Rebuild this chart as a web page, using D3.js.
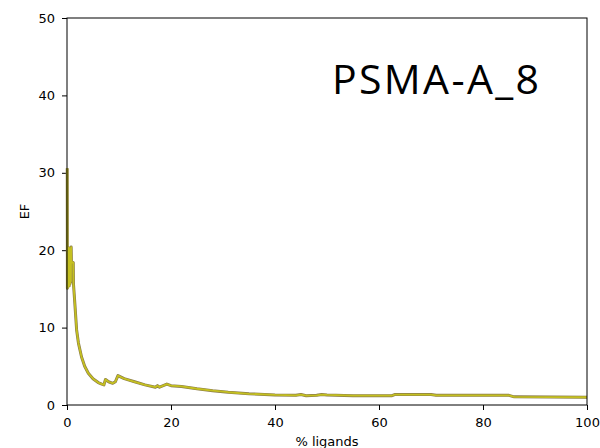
<!DOCTYPE html>
<html>
<head>
<meta charset="utf-8">
<script src="https://cdn.jsdelivr.net/npm/d3@7"></script>
<style>
  body { margin: 0; background: #fff; }
  text { font-family: "DejaVu Sans", sans-serif; }
</style>
</head>
<body>
<div id="chart"></div>
<script>
// EF curve (x = % ligands, y = EF).
const pctLigands = [0.05, 0.08, 0.12, 0.16, 0.2, 0.25, 0.3, 0.35, 0.4, 0.45, 0.5, 0.55, 0.6, 0.65, 0.7, 0.75, 0.8, 0.85, 1.2, 1.25,
    1.5, 1.85, 2.2, 2.8, 3.4, 4.1, 5.0, 6.0, 6.7, 7.1, 7.4, 8.0, 8.8, 9.3, 9.8, 11, 13, 15, 17, 17.4, 17.8, 18.5, 19.2,
    20, 22, 25, 28, 31, 35, 40, 44, 45, 46, 48, 49, 50, 55, 60, 62.5, 63, 70, 71, 76, 85, 86, 100];
const efValues = [30.6, 15.1, 20.4, 15.2, 20.2, 15.3, 20.0, 15.5, 20.3, 15.4, 19.8, 15.6, 20.1, 15.8, 19.6, 16.0, 20.4, 18.5, 18.4, 15.6,
    13.2, 9.7, 8.0, 6.2, 5.0, 4.1, 3.4, 2.9, 2.7, 2.6, 3.3, 3.0, 2.8, 3.0, 3.8, 3.4, 3.0, 2.6, 2.3, 2.5, 2.3, 2.5, 2.7,
    2.5, 2.4, 2.1, 1.85, 1.65, 1.45, 1.3, 1.25, 1.35, 1.2, 1.25, 1.35, 1.3, 1.2, 1.2, 1.2, 1.35, 1.35, 1.25, 1.25, 1.25, 1.05, 1.0];
const xTicks = [0, 20, 40, 60, 80, 100];
const yTicks = [0, 10, 20, 30, 40, 50];
const chartTitle = 'PSMA-A_8';

const width = 600, height = 448;
const margin = {top: 18, right: 13, bottom: 43, left: 67};
const plotW = width - margin.left - margin.right,
    plotH = height - margin.top - margin.bottom;

const svg = d3.select('#chart').append('svg')
    .attr('width', width)
    .attr('height', height);
const g = svg.append('g')
    .attr('transform', 'translate(' + margin.left + ',' + margin.top + ')');

const x = d3.scaleLinear().domain([0, 100]).range([0, plotW]);
const y = d3.scaleLinear().domain([0, 50]).range([plotH, 0]);

// Axes.
const xAxis = g.append('g')
    .attr('transform', 'translate(0,' + plotH + ')')
    .call(d3.axisBottom(x).tickValues(xTicks).tickSize(5).tickPadding(8));
const yAxis = g.append('g')
    .call(d3.axisLeft(y).tickValues(yTicks).tickSize(5).tickPadding(7));
[xAxis, yAxis].forEach(function (a) {
    a.select('.domain').remove();
    a.selectAll('text').attr('font-size', '13px').attr('fill', '#000')
        .style('font-family', '"DejaVu Sans", sans-serif');
    a.selectAll('line').attr('stroke', '#000');
});

// The curve: darker outline under the olive line.
const line = d3.line()
    .x(function (d) { return x(d[0]); })
    .y(function (d) { return y(d[1]); });
const points = pctLigands.map(function (p, i) { return [p, efValues[i]]; });
g.append('path').datum(points)
    .attr('fill', 'none').attr('stroke', '#8a7b4a').attr('stroke-width', 3)
    .attr('stroke-linejoin', 'round').attr('d', line);
g.append('path').datum(points)
    .attr('fill', 'none').attr('stroke', '#c4c020').attr('stroke-width', 1.8)
    .attr('stroke-linejoin', 'round').attr('d', line);

// Frame.
g.append('rect')
    .attr('width', plotW).attr('height', plotH)
    .attr('fill', 'none').attr('stroke', '#000').attr('stroke-width', 1);

// Labels.
svg.append('text')
    .attr('x', margin.left + plotW / 2).attr('y', 446)
    .attr('text-anchor', 'middle').attr('font-size', '13px')
    .text('% ligands');
svg.append('text')
    .attr('transform', 'translate(29,' + (margin.top + plotH / 2) + ') rotate(-90)')
    .attr('text-anchor', 'middle').attr('font-size', '13px')
    .text('EF');
svg.append('text')
    .attr('x', 332).attr('y', 94)
    .attr('font-size', '41px')
    .attr('textLength', 207)
    .attr('lengthAdjust', 'spacing')
    .style('font-family', '"Open Sans", sans-serif')
    .text(chartTitle);
</script>
</body>
</html>
